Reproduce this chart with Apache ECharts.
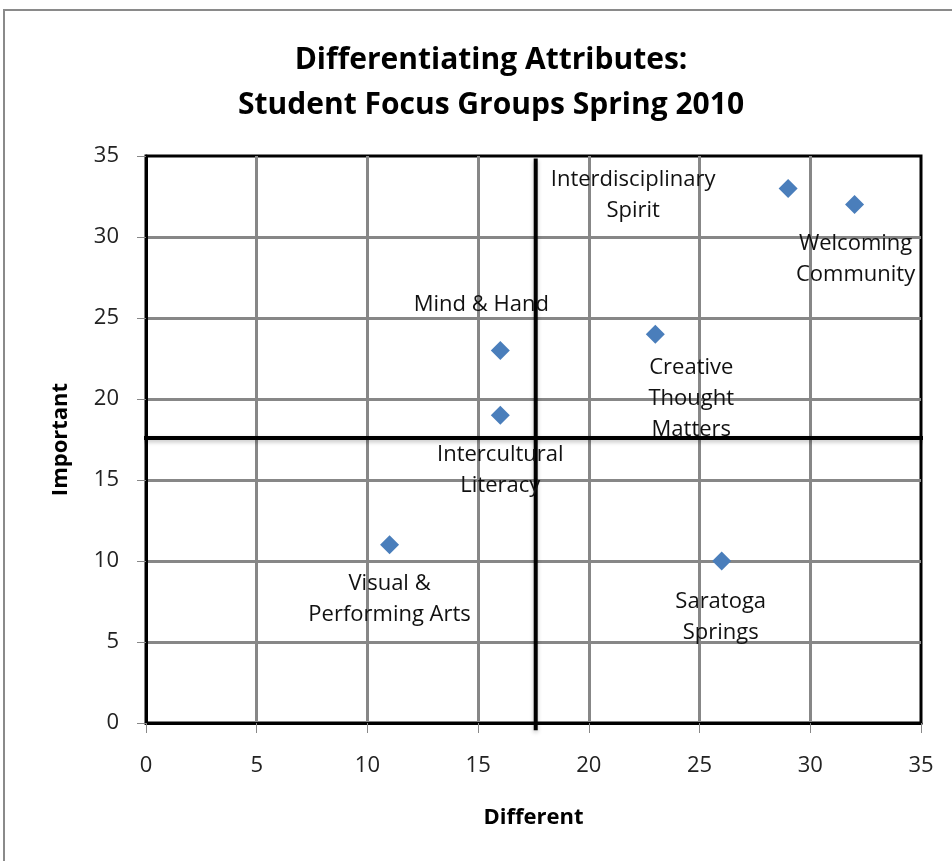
<!DOCTYPE html>
<html>
<head>
<meta charset="utf-8">
<script src="https://cdn.jsdelivr.net/npm/echarts@6/dist/echarts.min.js"></script>
<style>
html,body{margin:0;padding:0;background:#fff;}
#chart{width:952px;height:861px;}
</style>
</head>
<body>
<div id="chart"></div>
<script>
// ---- data ----
var names = ['Interdisciplinary\nSpirit', 'Welcoming\nCommunity', 'Mind & Hand', 'Intercultural\nLiteracy', 'Creative\nThought\nMatters', 'Visual &\nPerforming Arts', 'Saratoga\nSprings'];
var differentValues = [29, 32, 16, 16, 23, 11, 26];
var importantValues = [33, 32, 23, 19, 24, 11, 10];
var xTicks = [0, 5, 10, 15, 20, 25, 30, 35];
var yTicks = [0, 5, 10, 15, 20, 25, 30, 35];
var quadrantX = 17.6;
var quadrantY = 17.6;
var quadrantXSpan = [-0.3, 35.25];
var quadrantYSpan = [34.85, -0.45];

// ---- layout (label placement, pixels relative to point) ----
var labelOffsets = [[-155, 7], [1, 55], [-19, -46], [0, 55], [36, 65], [0, 54], [-1, 56]];

var FONT = 'Open Sans';
var points = names.map(function (n, i) {
  return {
    name: n,
    value: [differentValues[i], importantValues[i]],
    label: { offset: labelOffsets[i] }
  };
});

var chart = echarts.init(document.getElementById('chart'));
chart.setOption({
  animation: false,
  backgroundColor: '#ffffff',
  graphic: [{
    type: 'rect', silent: true, z: -10,
    shape: { x: 4, y: 10, width: 1100, height: 1000 },
    style: { fill: 'none', stroke: '#8a8a8a', lineWidth: 2 }
  }],
  title: {
    text: 'Differentiating Attributes:\nStudent Focus Groups Spring 2010',
    left: 486, top: 33, textAlign: 'center',
    textStyle: { fontFamily: FONT, fontWeight: 'bold', fontSize: 30, lineHeight: 45, color: '#000' }
  },
  grid: {
    left: 146, right: 31, top: 156, bottom: 138,
    show: true, borderColor: '#000', borderWidth: 3, backgroundColor: 'transparent'
  },
  xAxis: {
    type: 'value', min: xTicks[0], max: xTicks[xTicks.length - 1], interval: 5,
    name: 'Different', nameLocation: 'middle', nameGap: 84,
    nameTextStyle: { fontFamily: FONT, fontWeight: 'bold', fontSize: 22, color: '#000' },
    axisLine: { show: true, lineStyle: { color: '#000', width: 3 } },
    axisTick: { show: true, length: 10, lineStyle: { color: '#888', width: 1 } },
    axisLabel: { margin: 32, fontFamily: FONT, fontSize: 22, color: '#222' },
    splitLine: { show: true, showMinLine: false, showMaxLine: false, lineStyle: { color: '#878787', width: 3 } }
  },
  yAxis: {
    type: 'value', min: yTicks[0], max: yTicks[yTicks.length - 1], interval: 5,
    name: 'Important', nameLocation: 'middle', nameGap: 74, nameRotate: 90,
    nameTextStyle: { fontFamily: FONT, fontWeight: 'bold', fontSize: 22, color: '#000' },
    axisLine: { show: true, lineStyle: { color: '#000', width: 3 } },
    axisTick: { show: true, length: 9, lineStyle: { color: '#888', width: 1 } },
    axisLabel: { margin: 27, fontFamily: FONT, fontSize: 22, color: '#222' },
    splitLine: { show: true, showMinLine: false, showMaxLine: false, lineStyle: { color: '#878787', width: 3 } }
  },
  series: [
    {
      type: 'line', silent: true, clip: false, symbol: 'none', z: 3,
      data: [[quadrantXSpan[0], quadrantY], [quadrantXSpan[1], quadrantY]],
      lineStyle: { color: '#000', width: 4, shadowColor: 'rgba(0,0,0,0.25)', shadowBlur: 4, shadowOffsetY: 2 }
    },
    {
      type: 'line', silent: true, clip: false, symbol: 'none', z: 3,
      data: [[quadrantX, quadrantYSpan[0]], [quadrantX, quadrantYSpan[1]]],
      lineStyle: { color: '#000', width: 4, shadowColor: 'rgba(0,0,0,0.25)', shadowBlur: 4, shadowOffsetY: 2 }
    },
    {
      type: 'scatter', symbol: 'diamond', symbolSize: 19, z: 5,
      itemStyle: { color: '#4A7EBB', opacity: 1 },
      data: points,
      label: {
        show: true, position: 'inside', formatter: '{b}', opacity: 1,
        fontFamily: FONT, fontSize: 22, lineHeight: 31, color: '#111', align: 'center'
      }
    }
  ]
});
</script>
</body>
</html>
